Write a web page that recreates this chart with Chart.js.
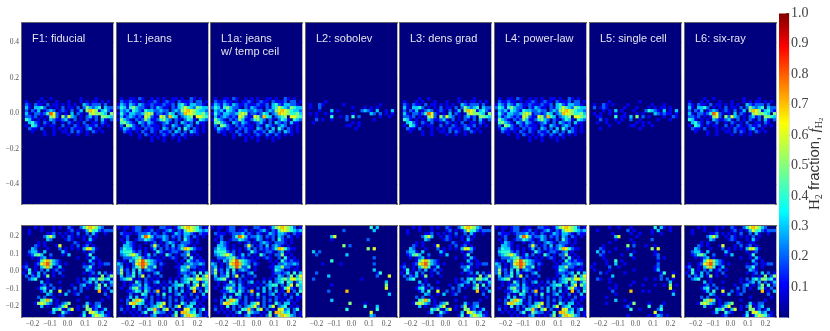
<!DOCTYPE html>
<html>
<head>
<meta charset="utf-8">
<style>
html, body { margin: 0; padding: 0; background: #fff; }
#page { position: relative; width: 830px; height: 331px; overflow: hidden; }
canvas { position: absolute; filter: blur(0.4px); }
</style>
<script src="https://cdn.jsdelivr.net/npm/chart.js@4"></script>
</head>
<body>
<div id="page"></div>
<script>
// H2 fraction, one char per cell: "." = none, 1-9 = tenths
const topMid = [
"......1..1.........1....1.....",
".1...1.1...1...1...1.1.11.1.1.",
".21.211.2.11.1.1.1..321222.2..",
".31.3342.1.1.2.11.2.253234.322",
".2.213.1232.121.2.13.576513421",
".31.221248621.1.3.21.1565543.5",
".2212.1.1562.52632.1.2312.5543",
".431.1.1.3211231.2.1.21.2.31.2",
"..3421.21.2..1.21.1.2..11.21..",
".1.431.1.11..2.1.21.12112.1.1.",
"..211.2...1.1.1.2111.231.1....",
"...1...1..1..11.2.21.1.21.1...",
".......1..1....1..1..1........"
];
const topDense = [
".1..11.21..1.1.1..11.1..21.1..",
".211211.1.1121.1211.21112.22.1",
"1321321321121112112.342133221.",
"2431453221.213211.213464325433",
".3231432143322322.232567654332",
"1421332235651221243.2376654453",
".3123212165211652743.2345.6654",
"15321.212531124532.21.2431.432",
".45321.321321.1231.2.3212.311.",
".2.5421.212111.21.321.232.1.1.",
".1321211.21211.32.2.3.42.21.1.",
"..211.1.21.21.2112.32.2.321.1.",
"....1..1.21.1.121.21.21.1.1...",
".......1...1.1.1..1.1.1.......",
"...........1...1....1........."
];
const topSparse = [
"..............................",
"......1.......................",
".1..21......1...........1.....",
".1..2..........1...1.1.1......",
"....1...3.1.......2321.3..1.3.",
".1.1..1.1......1.....32.2.1.1.",
"...1....4..1.2.4.2......1..1..",
"...2.1..1....2........1.......",
"..1............1.1............",
".............11..1............",
"................1.............",
];
const topSingle = [
"..............................",
"......1.........1.............",
".1..21.1....1.......1...1.....",
".2.121.....1...1...1.1.11.1...",
"....1.1.3.1...1...24321.3.1.3.",
".1.1..1.1..1...1.1...321211.1.",
"..11....4.11.3.5.2.1....1..21.",
"...2.1..1.1..2..1.....1...1...",
"..1..1...1.....1.1.1..........",
"......1......11..1..1.........",
"...1............1.............",
];
const bottomMid = [
"....1.1...1.1..21..24676532...",
"..1...1...1....12.1.1364421222",
"..1.....112.1.1.1.2..2.31..1..",
".......2463..1.21.1.1.2.1.....",
"........32....121...1.31......",
".....1.1.........21..11.......",
"....21.1...16...1.2.12.1......",
"...32...1...2.1.1.1.36631.....",
"..2331.3.....31.....1.12......",
"..12453..2...1.3.....14.......",
"...1.123.1........1..1.31.....",
".....14675321.........31.1....",
".1..126785321.1.....1.12.1122.",
"12..1.3574.13.......2241.1....",
".14.1.2.3.12.1.......321......",
"1.41.3.2..1.2.......1.12.3.2.1",
".2.213.15.1..1........1.1.5.25",
"..234...1.........1.2.34255341",
"......3.1...1.....1.123.3.2.13",
"......12.2......1..23.1.25.4.2",
".....1341.2.1....2.2.1..351.2.",
"......13.4..6..2.1.2.....7.1.3",
"........32..1.3..12........2..",
".....2.2..1..........1......1.",
"......4574.1......1.......1...",
"....156532.1.235.....31.22....",
"......3.1..1246...1.25.123....",
"..........4351.36.1..5512.13..",
".........13..421....3.66423.1.",
"............12.....14.1465421."
];
const bottomDense = [
"1.11.122..11..2211.135676542.1",
"..1..122.112.1.1231.2146654323",
".2111.12223121.21.13213321.211",
"..12...2486312232.212.32.21.1.",
".1.2..1224321.132.1.2.421.1...",
"..1321...1.12.1.2321.2221.1...",
"..3321.1...262.12.3.2321.1....",
".24331.1.1.13.2.212124764211..",
".3444212.1..1421.1221.23.1....",
".2345642.13.2.1.42.1.2251.1...",
"..2223452121.1.1.121..2.41.1..",
"1.1.32568543211....1.1.421211.",
"32.1.26787432 21....1.2232232.",
"23.1.24585224.1....11335221.1.",
"2512.3.4.2321.1.....1432.1.11.",
"25.214.31.1.23......122123.4.3",
".3.224.26.2.1.2.....1.32.25.36",
".23451.1.2.1.1...1.1.234536645",
"..1.1.42.21.23.1.2.3.234.43.24",
"..1.1223.31.1.1.1.2344.2.36.53",
".1..24521321.1.2.3.3.2.14621.3",
"...11243.42.27.1.3.2.3.1.7.2.4",
"....2.1.43.1.2.4.1.23.1.2.1.3.",
"...13.3.12.2.1.2.2.1.21.1.2.11",
".1.2.47641.2.1.1.2.2.2.1.21.1.",
"...267543.12.346.2.1.42.33.1..",
".1.1.4.2.2.23462.2.36.234.1.1.",
".2.1.1.2.14472.46.2.1.6623.24.",
"..1.1.1.24.15322.1.4.77534.2.1",
".....1.1.1.23.1.1.25.2576532.1"
];
const bottomSparse = [
".....................4.3......",
"............2.........3.......",
"..............................",
"........36....................",
"........1...........2.........",
"..............................",
"............5.2...............",
"....................5.6.......",
"..3.2.........................",
"...2.........3................",
"......................2.......",
"........4.....................",
".....1.....1..........2.......",
"..............................",
"......................3.......",
"...2...................14.....",
".......3...............2...6..",
"..2...............1...........",
"..........................3...",
"........1.................5...",
"..........................6...",
".......2.....7................",
"...........................3..",
"..............................",
"........3.....................",
"..............5....1..........",
"...................4...3......",
".............4.........4......",
".....................6........",
".....................32.......",
];
const bottomSingle = [
"......1..1...1.......4.31.1...",
"..1.........2.1.....1.3...1...",
".......1.....1..1...1..1......",
"........36.....1..............",
"........1....1......2.........",
"......1.......1...............",
"....1.......5.2...1..1........",
"...21...1...1.......5.6.......",
"..3.2.1.......1......1........",
"...21.....1..3.......12.......",
"....1.........1.......2.1.....",
".....1..4.1...........1.......",
".1...1..3..1..........2.......",
"1.....2..1...........12.......",
".1....1.......1......13.......",
"...2.1.....1...........14..1..",
".......3...............2...6..",
"..21..1...........1..1.2.2.1..",
"......1.......1...........3...",
"........1....1...1...1..1.5.1.",
"......1.1.................6...",
".......2.....7...1.1.......1..",
"........1..................3..",
".....1........................",
"........3..1..................",
".....1.......15....1....1.....",
"...........12......4...3......",
".............4..1.....24......",
".....................6.1......",
"............1......1.132.1....",
];

const panelNames = ["F1: fiducial", "L1: jeans", "L1a: jeans\nw/ temp ceil", "L2: sobolev",
    "L3: dens grad", "L4: power-law", "L5: single cell", "L6: six-ray"];
const panelTop = [topMid, topDense, topDense, topSparse, topMid, topDense, topSingle, topMid];
const panelBottom = [bottomMid, bottomDense, bottomDense, bottomSparse, bottomMid, bottomDense, bottomSingle, bottomMid];

const xTicks = [-0.2, -0.1, 0, 0.1, 0.2];
const topYTicks = [-0.4, -0.2, 0, 0.2, 0.4];
const bottomYTicks = [-0.2, -0.1, 0, 0.1, 0.2];
const barTicks = [0.1, 0.2, 0.3, 0.4, 0.5, 0.6, 0.7, 0.8, 0.9, 1.0];
const jetStops = [[0, 0, 0, 127], [0.11, 0, 0, 255], [0.35, 0, 255, 255], [0.64, 255, 255, 0], [0.89, 255, 0, 0], [1, 127, 0, 0]];

function jet(v) {
    for (let i = 1; i < jetStops.length; i++) {
        if (v <= jetStops[i][0]) {
            let a = jetStops[i - 1], b = jetStops[i];
            let t = (v - a[0]) / (b[0] - a[0]);
            return `rgb(${a[1] + (b[1] - a[1]) * t}, ${a[2] + (b[2] - a[2]) * t}, ${a[3] + (b[3] - a[3]) * t})`;
        }
    }
    return "rgb(127, 0, 0)";
}

function toPoints(rows, yStart, cellY) {
    let pts = [];
    const cellX = 0.52 / 30;
    rows.forEach((row, r) => {
        for (let c = 0; c < row.length && c < 30; c++) {
            if (row[c] === "." || row[c] === " ") continue;
            pts.push({x: -0.26 + (c + 0.5) * cellX, y: yStart - (r + 0.5) * cellY, v: Number(row[c]) / 10});
        }
    });
    return pts.sort((a, b) => a.v - b.v);
}

function fmt(v) {
    return v.toFixed(1).replace("-", "\u2212");
}

const navyBack = {
    id: "navyBack",
    beforeDatasetsDraw(chart) {
        let a = chart.chartArea;
        chart.ctx.fillStyle = "#00007f";
        chart.ctx.fillRect(a.left, a.top, a.width, a.height);
    }
};
const panelLabel = {
    id: "panelLabel",
    afterDraw(chart, args, opts) {
        if (!opts.text) return;
        let ctx = chart.ctx;
        ctx.save();
        ctx.font = "11px 'Liberation Sans'";
        ctx.fillStyle = "#e4e4ee";
        ctx.textBaseline = "middle";
        opts.text.split("\n").forEach((line, i) => {
            ctx.fillText(line, chart.chartArea.left + 10, chart.chartArea.top + 16 + i * 12.5);
        });
        ctx.restore();
    }
};
const barTitle = {
    id: "barTitle",
    afterDraw(chart) {
        let ctx = chart.ctx;
        const parts = [
            ["H", "15px 'Liberation Serif'", 0], ["2", "10px 'Liberation Serif'", 3],
            [" fraction, ", "15px 'Liberation Sans'", 0], ["f", "italic 15px 'Liberation Serif'", 0],
            ["H", "10px 'Liberation Serif'", 3], ["2", "7px 'Liberation Serif'", 4]
        ];
        ctx.save();
        ctx.translate(49, 210);
        ctx.rotate(-Math.PI / 2);
        ctx.fillStyle = "#333";
        ctx.textBaseline = "alphabetic";
        let x = 0;
        parts.forEach(p => {
            ctx.font = p[1];
            ctx.fillText(p[0], x, p[2]);
            x += ctx.measureText(p[0]).width;
        });
        ctx.restore();
    }
};

function tickAxis(position, min, max, values, showLabels, size) {
    const horizontal = position === "top" || position === "bottom";
    return {
        type: "linear", position: position, min: min, max: max,
        border: {display: true, color: "#666", width: 1.5},
        grid: {drawOnChartArea: false, tickLength: -3, tickColor: "#777", tickWidth: 0.7},
        ticks: {
            display: showLabels, autoSkip: false, maxRotation: 0, minRotation: 0, padding: 6,
            color: "#555", font: {family: "Liberation Serif", size: 7.5},
            callback: fmt
        },
        afterBuildTicks: s => { s.ticks = values.map(v => ({value: v})); },
        afterFit: s => {
            if (horizontal) s.height = size; else s.width = size;
            s.paddingTop = s.paddingBottom = s.paddingLeft = s.paddingRight = 0;
        }
    };
}

function addPanel(left, top, w, h, rows, yStart, cellY, ymax, yVals, name, showY, showX) {
    const ml = showY ? 22 : 2, mb = showX ? 14 : 2;
    let cv = document.createElement("canvas");
    cv.width = w + ml + 2;
    cv.height = h + mb + 2;
    cv.style.left = (left - ml) + "px";
    cv.style.top = (top - 2) + "px";
    document.getElementById("page").appendChild(cv);
    new Chart(cv.getContext("2d"), {
        type: "scatter",
        data: {datasets: [{
            data: toPoints(rows, yStart, cellY),
            pointStyle: "rect",
            pointRadius: 2.3,
            pointBorderWidth: 0,
            backgroundColor: ctx => jet(ctx.raw ? ctx.raw.v : 0)
        }]},
        options: {
            responsive: false, animation: false, events: [],
            layout: {autoPadding: false, padding: 0},
            plugins: {legend: {display: false}, tooltip: {enabled: false}, panelLabel: {text: name}},
            scales: {
                x: tickAxis("bottom", -0.26, 0.26, xTicks, showX, mb),
                x2: tickAxis("top", -0.26, 0.26, xTicks, false, 2),
                y: tickAxis("left", -ymax, ymax, yVals, showY, ml),
                y2: tickAxis("right", -ymax, ymax, yVals, false, 2)
            }
        },
        plugins: [navyBack, panelLabel]
    });
}

const colLefts = [22, 117, 211, 306, 400, 495, 590, 685];
panelNames.forEach((name, i) => {
    addPanel(colLefts[i], 23, 91, 181, panelTop[i], 0.092, 0.0169, 0.51, topYTicks, name, i === 0, false);
    addPanel(colLefts[i], 226, 91, 91, panelBottom[i], 0.26, 0.52 / 30, 0.26, bottomYTicks, "", i === 0, true);
});

// colour bar
let barCv = document.createElement("canvas");
barCv.width = 60;
barCv.height = 331;
barCv.style.left = "770px";
barCv.style.top = "0px";
document.getElementById("page").appendChild(barCv);
new Chart(barCv.getContext("2d"), {
    type: "bar",
    data: {
        labels: [""],
        datasets: [{
            data: [[0, 1]],
            barPercentage: 1,
            categoryPercentage: 1,
            backgroundColor: ctx => {
                let a = ctx.chart.chartArea;
                if (!a) return "#00f";
                let g = ctx.chart.ctx.createLinearGradient(0, a.bottom, 0, a.top);
                jetStops.forEach(s => g.addColorStop(s[0], `rgb(${s[1]}, ${s[2]}, ${s[3]})`));
                return g;
            }
        }]
    },
    options: {
        responsive: false, animation: false, events: [],
        layout: {autoPadding: false, padding: {left: 9, top: 11, bottom: 9, right: 0}},
        plugins: {legend: {display: false}, tooltip: {enabled: false}},
        scales: {
            x: {display: false},
            y: {
                position: "right", min: 0, max: 1,
                border: {display: true, color: "#777", width: 1.2},
                grid: {drawOnChartArea: false, tickLength: -3, tickColor: "#555"},
                ticks: {color: "#444", padding: 5, font: {family: "Liberation Serif", size: 14}, callback: v => v.toFixed(1)},
                afterBuildTicks: s => { s.ticks = barTicks.map(v => ({value: v})); },
                afterFit: s => { s.width = 41; }
            }
        }
    },
    plugins: [barTitle]
});
</script>
</body>
</html>
